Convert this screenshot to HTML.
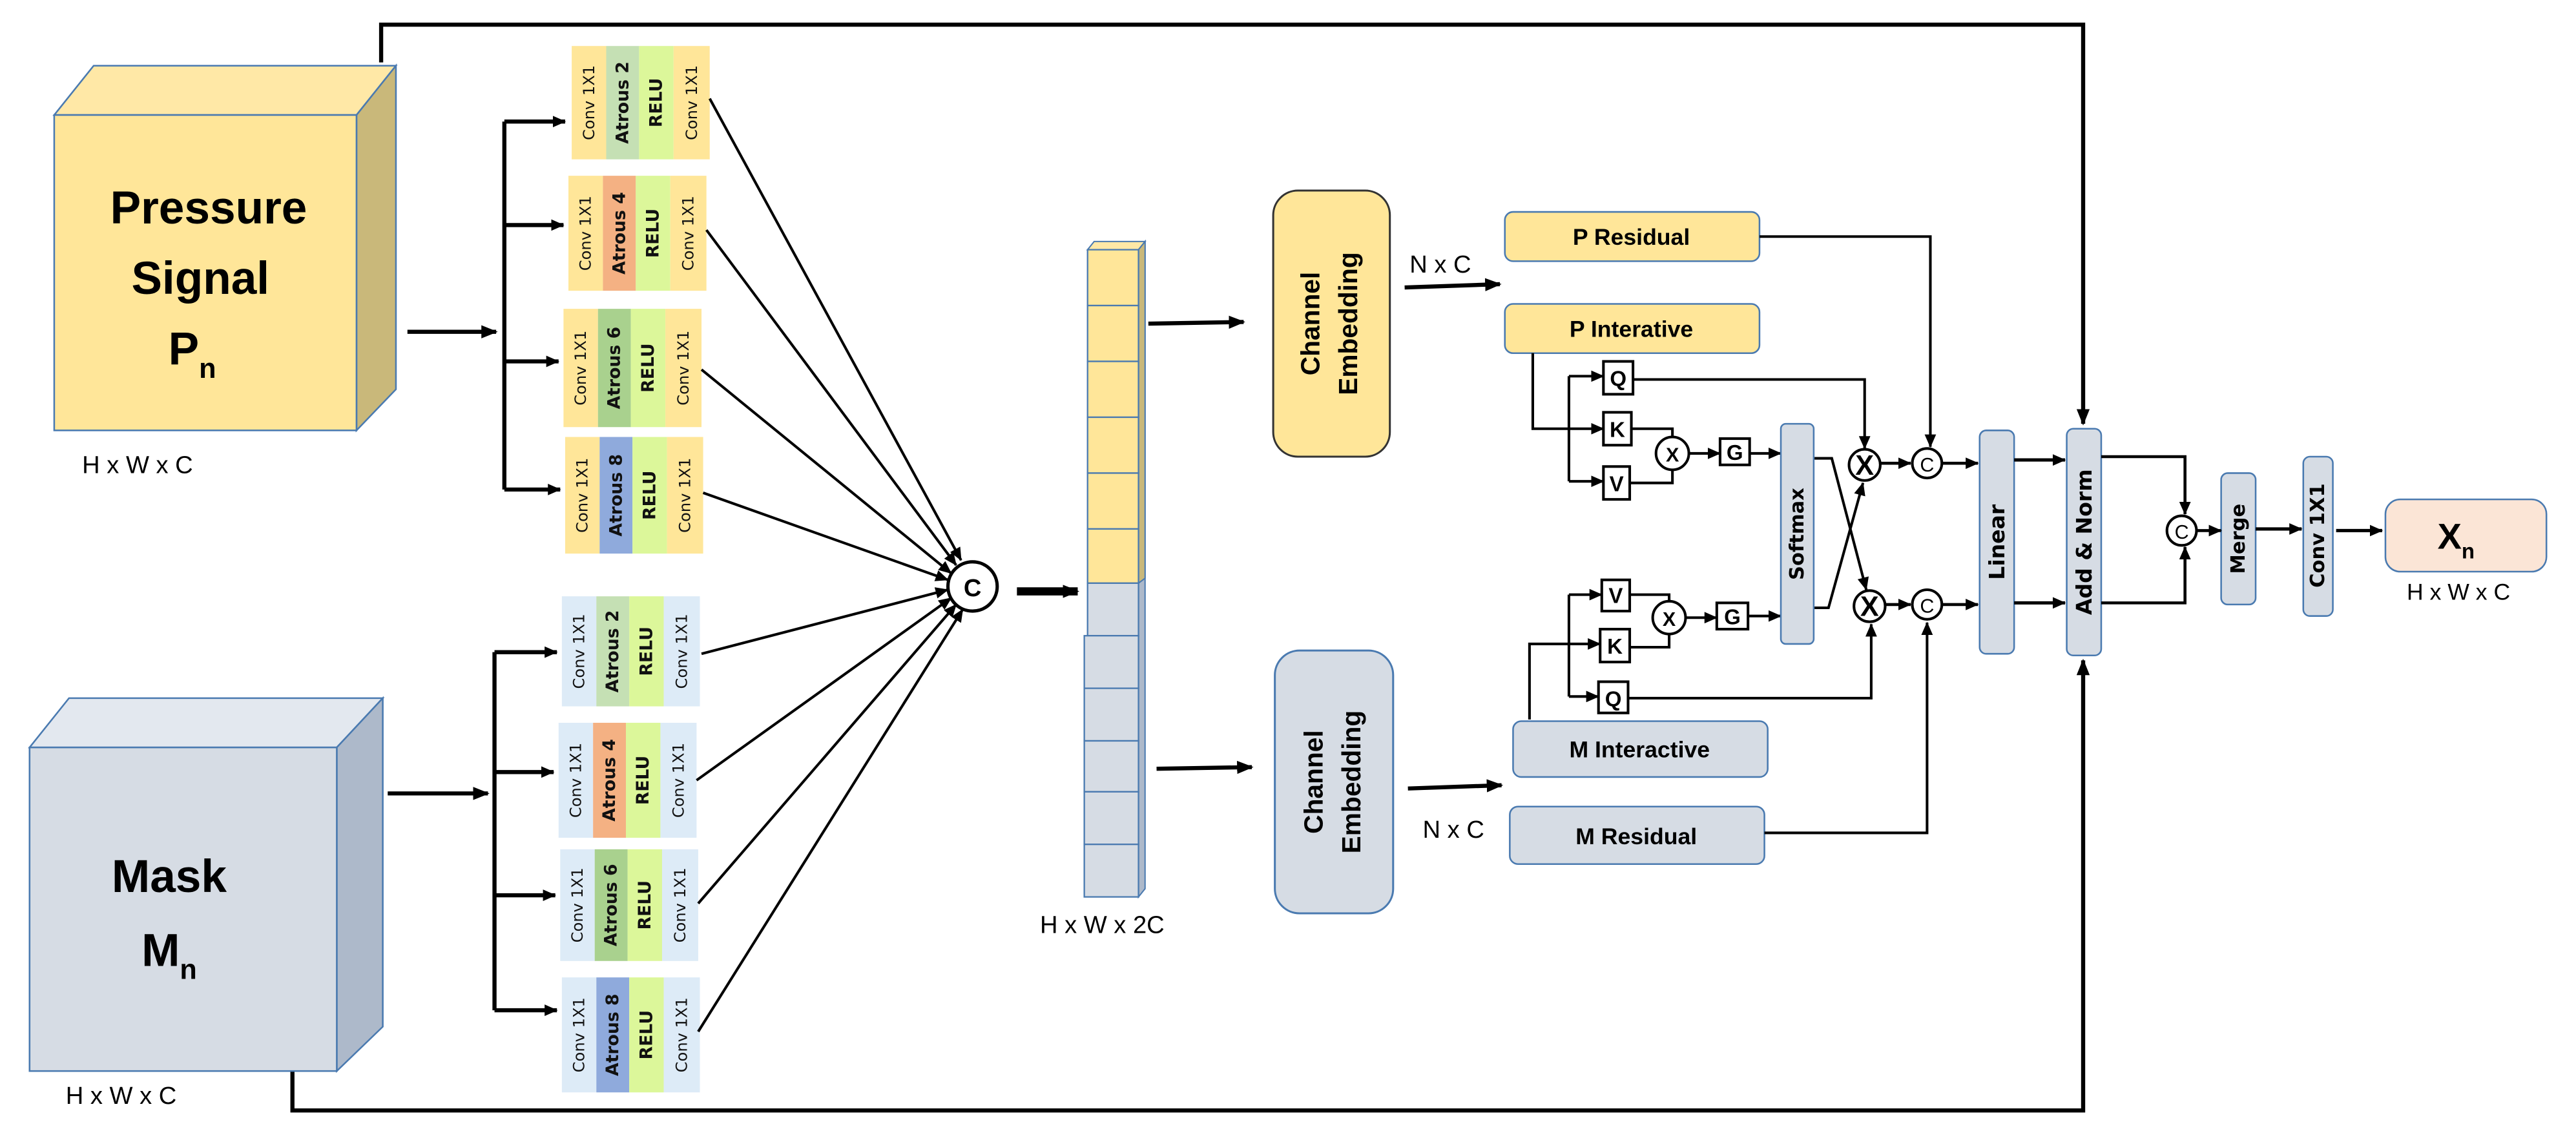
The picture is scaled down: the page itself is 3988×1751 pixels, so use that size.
<!DOCTYPE html>
<html><head><meta charset="utf-8"><style>
html,body{margin:0;padding:0;background:#fff;}
svg{display:block;}
text{font-family:"Liberation Sans",sans-serif;}
.dv text{font-family:"DejaVu Sans",sans-serif;}
</style></head><body>
<svg width="3988" height="1751" viewBox="0 0 1568 688.5" preserveAspectRatio="none" xmlns="http://www.w3.org/2000/svg">
<defs>
<marker id="a" markerUnits="userSpaceOnUse" markerWidth="10" markerHeight="8" refX="9" refY="4" orient="auto"><path d="M0,0 L10,4 L0,8 Z" fill="#000"/></marker>
<marker id="s" markerUnits="userSpaceOnUse" markerWidth="8" markerHeight="7" refX="7.5" refY="3.5" orient="auto"><path d="M0,0 L8,3.5 L0,7 Z" fill="#000"/></marker>
</defs>

<polyline points="232,38 232,15 1268,15 1268,258" fill="none" stroke="#000" stroke-width="2.5" marker-end="url(#a)"/>
<polyline points="178,652 178,676 1268,676 1268,402" fill="none" stroke="#000" stroke-width="2.5" marker-end="url(#a)"/>

<polygon points="33,70 57,40 241,40 217,70" fill="#ffe8a6" stroke="#4a7ab0" stroke-width="1"/>
<polygon points="217,70 241,40 241,237 217,262" fill="#c9b87a" stroke="#4a7ab0" stroke-width="1"/>
<rect x="33" y="70" width="184" height="192" fill="#ffe699" stroke="#4a7ab0" stroke-width="1"/>
<g font-weight="bold" font-size="28" text-anchor="middle">
<text x="127" y="136">Pressure</text>
<text x="122" y="179">Signal</text>
<text x="117" y="222">P<tspan font-size="17" dy="8">n</tspan></text>
</g>
<text x="50" y="288" font-size="15">H x W x C</text>

<polygon points="18,455 42,425 233,425 205,455" fill="#e3e8ef" stroke="#4a7ab0" stroke-width="1"/>
<polygon points="205,455 233,425 233,625 205,652" fill="#adb9ca" stroke="#4a7ab0" stroke-width="1"/>
<rect x="18" y="455" width="187" height="197" fill="#d6dce4" stroke="#4a7ab0" stroke-width="1"/>
<g font-weight="bold" font-size="28" text-anchor="middle">
<text x="103" y="543">Mask</text>
<text x="103" y="588">M<tspan font-size="17" dy="8">n</tspan></text>
</g>
<text x="40" y="672" font-size="15">H x W x C</text>

<line x1="248" y1="202" x2="302" y2="202" stroke="#000" stroke-width="2.5" marker-end="url(#a)"/>
<polyline points="307,74 307,298" fill="none" stroke="#000" stroke-width="2.5"/>
<line x1="307" y1="74" x2="344" y2="74" stroke="#000" stroke-width="2.5" marker-end="url(#s)"/>
<line x1="307" y1="137" x2="343" y2="137" stroke="#000" stroke-width="2.5" marker-end="url(#s)"/>
<line x1="307" y1="220" x2="340" y2="220" stroke="#000" stroke-width="2.5" marker-end="url(#s)"/>
<line x1="307" y1="298" x2="341" y2="298" stroke="#000" stroke-width="2.5" marker-end="url(#s)"/>
<line x1="236" y1="483" x2="297" y2="483" stroke="#000" stroke-width="2.5" marker-end="url(#a)"/>
<polyline points="301,397 301,615" fill="none" stroke="#000" stroke-width="2.5"/>
<line x1="301" y1="397" x2="339" y2="397" stroke="#000" stroke-width="2.5" marker-end="url(#s)"/>
<line x1="301" y1="470" x2="337" y2="470" stroke="#000" stroke-width="2.5" marker-end="url(#s)"/>
<line x1="301" y1="545" x2="338" y2="545" stroke="#000" stroke-width="2.5" marker-end="url(#s)"/>
<line x1="301" y1="615" x2="339" y2="615" stroke="#000" stroke-width="2.5" marker-end="url(#s)"/>

<g class="dv" font-size="9.5" text-anchor="middle" dominant-baseline="central" fill="#111">
<g transform="translate(348,28)">
<rect x="0" y="0" width="21" height="69" fill="#ffe699"/><rect x="21" y="0" width="20" height="69" fill="#c5e0b4"/><rect x="41" y="0" width="21" height="69" fill="#dcf79a"/><rect x="62" y="0" width="22" height="69" fill="#ffe699"/>
<text transform="translate(10.5,34.5) rotate(-90)">Conv 1X1</text><text transform="translate(31,34.5) rotate(-90)" font-weight="bold" font-size="10.5">Atrous 2</text><text transform="translate(51.5,34.5) rotate(-90)" font-weight="bold" font-size="10.5">RELU</text><text transform="translate(73,34.5) rotate(-90)">Conv 1X1</text>
</g>
<g transform="translate(346,107)">
<rect x="0" y="0" width="21" height="70" fill="#ffe699"/><rect x="21" y="0" width="20" height="70" fill="#f4b183"/><rect x="41" y="0" width="21" height="70" fill="#dcf79a"/><rect x="62" y="0" width="22" height="70" fill="#ffe699"/>
<text transform="translate(10.5,35) rotate(-90)">Conv 1X1</text><text transform="translate(31,35) rotate(-90)" font-weight="bold" font-size="10.5">Atrous 4</text><text transform="translate(51.5,35) rotate(-90)" font-weight="bold" font-size="10.5">RELU</text><text transform="translate(73,35) rotate(-90)">Conv 1X1</text>
</g>
<g transform="translate(343,188)">
<rect x="0" y="0" width="21" height="72" fill="#ffe699"/><rect x="21" y="0" width="20" height="72" fill="#a9d18e"/><rect x="41" y="0" width="21" height="72" fill="#dcf79a"/><rect x="62" y="0" width="22" height="72" fill="#ffe699"/>
<text transform="translate(10.5,36) rotate(-90)">Conv 1X1</text><text transform="translate(31,36) rotate(-90)" font-weight="bold" font-size="10.5">Atrous 6</text><text transform="translate(51.5,36) rotate(-90)" font-weight="bold" font-size="10.5">RELU</text><text transform="translate(73,36) rotate(-90)">Conv 1X1</text>
</g>
<g transform="translate(344,266)">
<rect x="0" y="0" width="21" height="71" fill="#ffe699"/><rect x="21" y="0" width="20" height="71" fill="#8faadc"/><rect x="41" y="0" width="21" height="71" fill="#dcf79a"/><rect x="62" y="0" width="22" height="71" fill="#ffe699"/>
<text transform="translate(10.5,35.5) rotate(-90)">Conv 1X1</text><text transform="translate(31,35.5) rotate(-90)" font-weight="bold" font-size="10.5">Atrous 8</text><text transform="translate(51.5,35.5) rotate(-90)" font-weight="bold" font-size="10.5">RELU</text><text transform="translate(73,35.5) rotate(-90)">Conv 1X1</text>
</g>
<g transform="translate(342,363)">
<rect x="0" y="0" width="21" height="67" fill="#ddebf7"/><rect x="21" y="0" width="20" height="67" fill="#c5e0b4"/><rect x="41" y="0" width="21" height="67" fill="#dcf79a"/><rect x="62" y="0" width="22" height="67" fill="#ddebf7"/>
<text transform="translate(10.5,33.5) rotate(-90)">Conv 1X1</text><text transform="translate(31,33.5) rotate(-90)" font-weight="bold" font-size="10.5">Atrous 2</text><text transform="translate(51.5,33.5) rotate(-90)" font-weight="bold" font-size="10.5">RELU</text><text transform="translate(73,33.5) rotate(-90)">Conv 1X1</text>
</g>
<g transform="translate(340,440)">
<rect x="0" y="0" width="21" height="70" fill="#ddebf7"/><rect x="21" y="0" width="20" height="70" fill="#f4b183"/><rect x="41" y="0" width="21" height="70" fill="#dcf79a"/><rect x="62" y="0" width="22" height="70" fill="#ddebf7"/>
<text transform="translate(10.5,35) rotate(-90)">Conv 1X1</text><text transform="translate(31,35) rotate(-90)" font-weight="bold" font-size="10.5">Atrous 4</text><text transform="translate(51.5,35) rotate(-90)" font-weight="bold" font-size="10.5">RELU</text><text transform="translate(73,35) rotate(-90)">Conv 1X1</text>
</g>
<g transform="translate(341,517)">
<rect x="0" y="0" width="21" height="68" fill="#ddebf7"/><rect x="21" y="0" width="20" height="68" fill="#a9d18e"/><rect x="41" y="0" width="21" height="68" fill="#dcf79a"/><rect x="62" y="0" width="22" height="68" fill="#ddebf7"/>
<text transform="translate(10.5,34) rotate(-90)">Conv 1X1</text><text transform="translate(31,34) rotate(-90)" font-weight="bold" font-size="10.5">Atrous 6</text><text transform="translate(51.5,34) rotate(-90)" font-weight="bold" font-size="10.5">RELU</text><text transform="translate(73,34) rotate(-90)">Conv 1X1</text>
</g>
<g transform="translate(342,595)">
<rect x="0" y="0" width="21" height="70" fill="#ddebf7"/><rect x="21" y="0" width="20" height="70" fill="#8faadc"/><rect x="41" y="0" width="21" height="70" fill="#dcf79a"/><rect x="62" y="0" width="22" height="70" fill="#ddebf7"/>
<text transform="translate(10.5,35) rotate(-90)">Conv 1X1</text><text transform="translate(31,35) rotate(-90)" font-weight="bold" font-size="10.5">Atrous 8</text><text transform="translate(51.5,35) rotate(-90)" font-weight="bold" font-size="10.5">RELU</text><text transform="translate(73,35) rotate(-90)">Conv 1X1</text>
</g>
</g>

<g stroke="#000" stroke-width="1.6" marker-end="url(#s)">
<line x1="432" y1="60" x2="585" y2="341"/>
<line x1="430" y1="140" x2="582" y2="344"/>
<line x1="427" y1="225" x2="579" y2="349"/>
<line x1="428" y1="300" x2="577" y2="353"/>
<line x1="427" y1="398" x2="577" y2="359"/>
<line x1="424" y1="475" x2="579" y2="364"/>
<line x1="425" y1="550" x2="582" y2="368"/>
<line x1="425" y1="628" x2="586" y2="371"/>
</g>
<circle cx="592" cy="357" r="15" fill="#fff" stroke="#000" stroke-width="2"/>
<text x="592" y="363" font-size="15" font-weight="bold" text-anchor="middle">C</text>
<line x1="619" y1="360" x2="656" y2="360" stroke="#000" stroke-width="5" marker-end="url(#a)"/>

<polygon points="662,152 666,147 697,147 693,152" fill="#ffe8a6" stroke="#4a7ab0" stroke-width="0.8"/>
<polygon points="693,152 697,147 697,541 693,546" fill="#adb9ca" stroke="#4a7ab0" stroke-width="0.8"/>
<polygon points="693,152 697,147 697,352 693,355" fill="#c9b87a" stroke="#4a7ab0" stroke-width="0.8"/>
<g stroke="#4a7ab0" stroke-width="0.9">
<rect x="662" y="152" width="31" height="34" fill="#ffe699"/>
<rect x="662" y="186" width="31" height="34" fill="#ffe699"/>
<rect x="662" y="220" width="31" height="34" fill="#ffe699"/>
<rect x="662" y="254" width="31" height="34" fill="#ffe699"/>
<rect x="662" y="288" width="31" height="34" fill="#ffe699"/>
<rect x="662" y="322" width="31" height="33" fill="#ffe699"/>
<rect x="662" y="355" width="31" height="32" fill="#d6dce4"/>
<rect x="660" y="387" width="33" height="32" fill="#d6dce4"/>
<rect x="660" y="419" width="33" height="32" fill="#d6dce4"/>
<rect x="660" y="451" width="33" height="31" fill="#d6dce4"/>
<rect x="660" y="482" width="33" height="32" fill="#d6dce4"/>
<rect x="660" y="514" width="33" height="32" fill="#d6dce4"/>
</g>
<text x="633" y="568" font-size="15">H x W x 2C</text>

<line x1="699" y1="197" x2="757" y2="196" stroke="#000" stroke-width="2.5" marker-end="url(#a)"/>
<line x1="704" y1="468" x2="762" y2="467" stroke="#000" stroke-width="2.5" marker-end="url(#a)"/>

<rect x="775" y="116" width="71" height="162" rx="15" fill="#ffe699" stroke="#333" stroke-width="1.2"/>
<rect x="776" y="396" width="72" height="160" rx="15" fill="#d6dce4" stroke="#4a7ab0" stroke-width="1.2"/>
<g font-size="16" font-weight="bold" text-anchor="middle">
<text transform="translate(803,197) rotate(-90)">Channel</text>
<text transform="translate(826,197) rotate(-90)">Embedding</text>
<text transform="translate(805,476) rotate(-90)">Channel</text>
<text transform="translate(828,476) rotate(-90)">Embedding</text>
</g>
<text x="858" y="166" font-size="15">N x C</text>
<line x1="855" y1="175" x2="913" y2="173" stroke="#000" stroke-width="2.5" marker-end="url(#a)"/>
<line x1="857" y1="480" x2="914" y2="478" stroke="#000" stroke-width="2.5" marker-end="url(#a)"/>
<text x="866" y="510" font-size="15">N x C</text>

<rect x="916" y="129" width="155" height="30" rx="5" fill="#ffe699" stroke="#4a7ab0" stroke-width="1"/>
<rect x="916" y="185" width="155" height="30" rx="5" fill="#ffe699" stroke="#4a7ab0" stroke-width="1"/>
<rect x="921" y="439" width="155" height="34" rx="5" fill="#d6dce4" stroke="#4a7ab0" stroke-width="1"/>
<rect x="919" y="491" width="155" height="35" rx="5" fill="#d6dce4" stroke="#4a7ab0" stroke-width="1"/>
<g font-size="14" font-weight="bold" text-anchor="middle">
<text x="993" y="149">P Residual</text>
<text x="993" y="205">P Interative</text>
<text x="998" y="461">M Interactive</text>
<text x="996" y="514">M Residual</text>
</g>

<g fill="none" stroke="#000" stroke-width="1.6">
<polyline points="933,215 933,261 955,261"/>
<polyline points="955,229 955,293"/>
</g>
<g stroke="#000" stroke-width="1.6" marker-end="url(#s)">
<line x1="955" y1="229" x2="976" y2="229"/>
<line x1="955" y1="261" x2="976" y2="261"/>
<line x1="955" y1="293" x2="976" y2="293"/>
</g>
<g fill="none" stroke="#000" stroke-width="1.6">
<polyline points="993,261 1018,261 1018,266"/>
<polyline points="992,294 1018,294 1018,286"/>
</g>
<line x1="1028" y1="276" x2="1047" y2="276" stroke="#000" stroke-width="1.6" marker-end="url(#s)"/>
<line x1="1065" y1="276" x2="1084" y2="276" stroke="#000" stroke-width="1.6" marker-end="url(#s)"/>
<polyline points="994,231 1135,231 1135,273" fill="none" stroke="#000" stroke-width="1.6" marker-end="url(#s)"/>
<polyline points="1071,144 1175,144 1175,272" fill="none" stroke="#000" stroke-width="1.6" marker-end="url(#s)"/>

<g fill="none" stroke="#000" stroke-width="1.6">
<polyline points="931,438 931,392 955,392"/>
<polyline points="955,362 955,424"/>
</g>
<g stroke="#000" stroke-width="1.6" marker-end="url(#s)">
<line x1="955" y1="362" x2="975" y2="362"/>
<line x1="955" y1="392" x2="974" y2="392"/>
<line x1="955" y1="424" x2="973" y2="424"/>
</g>
<g fill="none" stroke="#000" stroke-width="1.6">
<polyline points="992,362 1016,362 1016,366"/>
<polyline points="992,394 1016,394 1016,386"/>
</g>
<line x1="1026" y1="376" x2="1045" y2="376" stroke="#000" stroke-width="1.6" marker-end="url(#s)"/>
<line x1="1064" y1="375" x2="1084" y2="375" stroke="#000" stroke-width="1.6" marker-end="url(#s)"/>
<polyline points="991,425 1139,425 1139,380" fill="none" stroke="#000" stroke-width="1.6" marker-end="url(#s)"/>
<polyline points="1074,507 1173,507 1173,379" fill="none" stroke="#000" stroke-width="1.6" marker-end="url(#s)"/>

<polyline points="1104,279 1115,279 1136,359" fill="none" stroke="#000" stroke-width="1.6" marker-end="url(#s)"/>
<polyline points="1104,370 1113,370 1134,294" fill="none" stroke="#000" stroke-width="1.6" marker-end="url(#s)"/>

<g fill="#fff" stroke="#000" stroke-width="1.6">
<rect x="976" y="220" width="18" height="20"/>
<rect x="976" y="251" width="17" height="20"/>
<rect x="976" y="284" width="16" height="20"/>
<rect x="1047" y="267" width="18" height="16"/>
<rect x="975" y="353" width="17" height="19"/>
<rect x="974" y="383" width="18" height="20"/>
<rect x="973" y="415" width="18" height="19"/>
<rect x="1045" y="367" width="19" height="16"/>
<circle cx="1018" cy="276" r="10"/>
<circle cx="1016" cy="376" r="10"/>
<circle cx="1135" cy="283" r="9.5"/>
<circle cx="1138" cy="369" r="9.5"/>
<circle cx="1173" cy="282" r="9"/>
<circle cx="1173" cy="368" r="9"/>
<circle cx="1328" cy="323" r="9"/>
</g>
<g font-size="13" font-weight="bold" text-anchor="middle">
<text x="985" y="235">Q</text>
<text x="984.5" y="266">K</text>
<text x="984" y="299">V</text>
<text x="1056" y="280">G</text>
<text x="983.5" y="367">V</text>
<text x="983" y="398">K</text>
<text x="982" y="430">Q</text>
<text x="1054.5" y="380">G</text>
<text x="1018" y="281" font-size="12">X</text>
<text x="1016" y="381" font-size="12">X</text>
<text x="1135" y="289" font-size="17">X</text>
<text x="1138" y="375" font-size="17">X</text>
<text x="1173" y="287" font-size="12" font-weight="normal">C</text>
<text x="1173" y="373" font-size="12" font-weight="normal">C</text>
<text x="1328" y="328" font-size="12" font-weight="normal">C</text>
</g>
<line x1="1145" y1="282" x2="1163" y2="282" stroke="#000" stroke-width="1.8" marker-end="url(#s)"/>
<line x1="1148" y1="368" x2="1163" y2="368" stroke="#000" stroke-width="1.8" marker-end="url(#s)"/>
<line x1="1182" y1="282" x2="1204" y2="282" stroke="#000" stroke-width="1.8" marker-end="url(#s)"/>
<line x1="1182" y1="368" x2="1204" y2="368" stroke="#000" stroke-width="1.8" marker-end="url(#s)"/>

<g fill="#d6dce4" stroke="#4a7ab0" stroke-width="1">
<rect x="1084" y="258" width="20" height="134" rx="3"/>
<rect x="1205" y="262" width="21" height="136" rx="4"/>
<rect x="1258" y="261" width="21" height="138" rx="4"/>
<rect x="1352" y="288" width="21" height="80" rx="4"/>
<rect x="1402" y="278" width="18" height="97" rx="4"/>
</g>
<g class="dv" font-size="12" font-weight="bold" text-anchor="middle" dominant-baseline="central">
<text transform="translate(1094,325) rotate(-90)">Softmax</text>
<text transform="translate(1215.5,330) rotate(-90)" font-size="13">Linear</text>
<text transform="translate(1268.5,330) rotate(-90)" font-size="13">Add &amp; Norm</text>
<text transform="translate(1362.5,328) rotate(-90)">Merge</text>
<text transform="translate(1411,326) rotate(-90)">Conv 1X1</text>
</g>
<line x1="1226" y1="280" x2="1257" y2="280" stroke="#000" stroke-width="2" marker-end="url(#s)"/>
<line x1="1226" y1="367" x2="1257" y2="367" stroke="#000" stroke-width="2" marker-end="url(#s)"/>
<polyline points="1279,278 1330,278 1330,313" fill="none" stroke="#000" stroke-width="1.8" marker-end="url(#s)"/>
<polyline points="1279,367 1330,367 1330,333" fill="none" stroke="#000" stroke-width="1.8" marker-end="url(#s)"/>
<line x1="1337" y1="323" x2="1352" y2="323" stroke="#000" stroke-width="1.8" marker-end="url(#s)"/>
<line x1="1373" y1="322" x2="1401" y2="322" stroke="#000" stroke-width="2" marker-end="url(#s)"/>
<line x1="1422" y1="323" x2="1450" y2="323" stroke="#000" stroke-width="2" marker-end="url(#s)"/>

<rect x="1452" y="304" width="98" height="44" rx="9" fill="#fbe5d6" stroke="#4a7ab0" stroke-width="1"/>
<text x="1495" y="334" font-size="22" font-weight="bold" text-anchor="middle">X<tspan font-size="13" dy="6">n</tspan></text>
<text x="1465" y="365" font-size="14">H x W  x C</text>
</svg>
</body></html>
